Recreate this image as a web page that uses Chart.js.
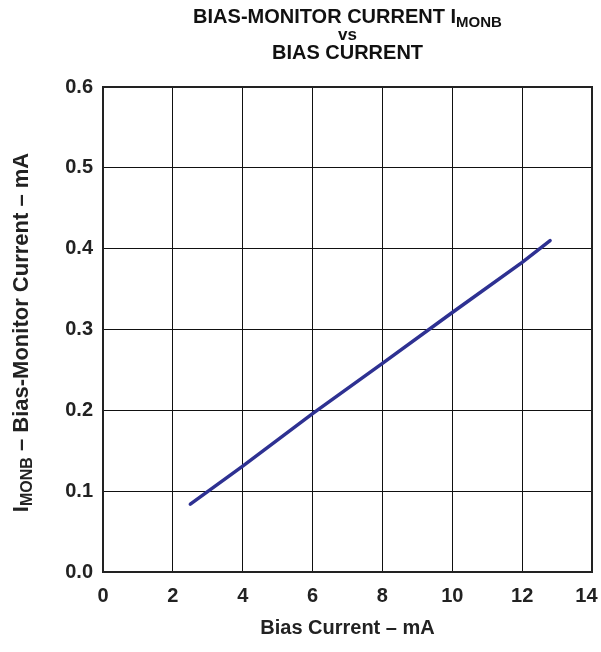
<!DOCTYPE html>
<html><head><meta charset="utf-8">
<script src="https://cdn.jsdelivr.net/npm/chart.js@4"></script>
<style>html,body{margin:0;padding:0;background:#fff;}#wrap{width:601px;height:652px;}</style>
</head><body><div id="wrap"><canvas id="c" width="601" height="652"></canvas></div>
<script>
const biasCurrent = [2.5, 4, 6, 8, 10, 12, 12.8];
const monitorCurrent = [0.084, 0.131, 0.196, 0.258, 0.321, 0.383, 0.41];
const xTicks = [0, 2, 4, 6, 8, 10, 12, 14];
const yTicks = [0.0, 0.1, 0.2, 0.3, 0.4, 0.5, 0.6];
const titleLine1 = ['BIAS-MONITOR CURRENT I', 'MONB'];
const titleLine2 = 'vs';
const titleLine3 = 'BIAS CURRENT';
const yTitle = ['I', 'MONB', ' – Bias-Monitor Current – mA'];
const xTitle = 'Bias Current – mA';

const FONT = '"Liberation Sans", Arial, sans-serif';

function drawSegs(ctx, segs, cx, cy) {
  let total = 0;
  segs.forEach(s => { ctx.font = 'bold ' + s[1] + 'px ' + FONT; total += ctx.measureText(s[0]).width; });
  let x = cx - total / 2;
  segs.forEach(s => {
    ctx.font = 'bold ' + s[1] + 'px ' + FONT;
    ctx.fillText(s[0], x, cy + s[2]);
    x += ctx.measureText(s[0]).width;
  });
}

const textPlugin = {
  id: 'texts',
  afterDraw(chart) {
    const ctx = chart.ctx, a = chart.chartArea;
    const cx = (a.left + a.right) / 2;
    ctx.save();
    ctx.fillStyle = '#111';
    ctx.textBaseline = 'alphabetic';
    ctx.textAlign = 'left';
    drawSegs(ctx, [[titleLine1[0], 20, 0], [titleLine1[1], 15, 4]], cx, 23);
    drawSegs(ctx, [[titleLine2, 17, 0]], cx, 40);
    drawSegs(ctx, [[titleLine3, 20, 0]], cx, 59);
    ctx.fillStyle = '#222';
    drawSegs(ctx, [[xTitle, 20, 0]], cx, 634);
    ctx.translate(28, (a.top + a.bottom) / 2 + 3);
    ctx.rotate(-Math.PI / 2);
    drawSegs(ctx, [[yTitle[0], 22, 0], [yTitle[1], 16, 4], [yTitle[2], 22, 0]], 0, 0);
    ctx.restore();
  }
};

new Chart(document.getElementById('c'), {
  type: 'scatter',
  data: {
    datasets: [{
      data: biasCurrent.map((x, i) => ({ x: x, y: monitorCurrent[i] })),
      showLine: true,
      borderColor: '#2e3192',
      borderWidth: 3.5,
      pointRadius: 0,
      borderCapStyle: 'round',
      tension: 0
    }]
  },
  options: {
    responsive: false,
    animation: false,
    layout: { padding: { top: 87, right: 9, left: 0, bottom: 0 } },
    plugins: { legend: { display: false }, title: { display: false }, tooltip: { enabled: false } },
    scales: {
      x: {
        type: 'linear', min: 0, max: 14,
        afterBuildTicks: s => { s.ticks = xTicks.map(v => ({ value: v })); },
        afterFit: s => { s.height = 80; s.paddingLeft = 0; s.paddingRight = 0; },
        grid: { color: '#111', lineWidth: 1, drawTicks: false },
        border: { color: '#222', width: 2 },
        ticks: { color: '#222', font: { family: FONT, size: 20, weight: 'bold' }, padding: 12,
          callback: v => (v === xTicks[xTicks.length - 1] ? String(v) + '  ' : String(v)) }
      },
      y: {
        type: 'linear', min: 0, max: 0.6,
        afterBuildTicks: s => { s.ticks = yTicks.map(v => ({ value: v })); },
        afterFit: s => { s.width = 103; s.paddingTop = 0; s.paddingBottom = 0; },
        grid: { color: '#111', lineWidth: 1, drawTicks: false },
        border: { color: '#222', width: 2 },
        ticks: { color: '#222', font: { family: FONT, size: 20, weight: 'bold' }, padding: 10,
          callback: v => v.toFixed(1) }
      }
    }
  },
  plugins: [textPlugin, {
    id: 'frame',
    afterDatasetsDraw(chart) {
      const ctx = chart.ctx, a = chart.chartArea;
      ctx.save(); ctx.strokeStyle = '#222'; ctx.lineWidth = 2;
      ctx.strokeRect(a.left, a.top, a.right - a.left, a.bottom - a.top);
      ctx.restore();
    }
  }]
});
</script>
</body></html>
